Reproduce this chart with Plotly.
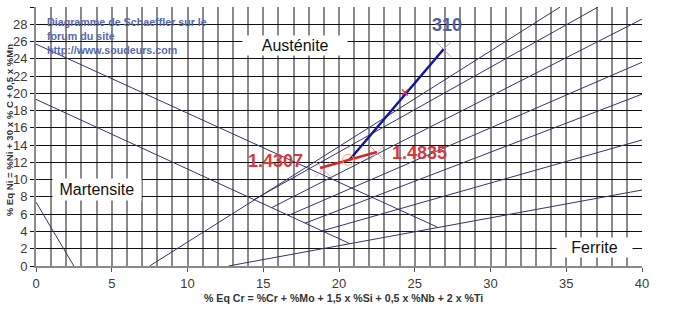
import plotly.graph_objects as go

# ---- axis ticks ----
x_ticks = [0, 5, 10, 15, 20, 25, 30, 35, 40]
y_ticks = list(range(0, 31, 2))

# ---- structural lines of the Schaeffler diagram ----
mart_line1_x = [0, 26.5]
mart_line1_y = [25.7, 4.5]
mart_line2_x = [0, 20.7]
mart_line2_y = [19.3, 2.6]
mart_line3_x = [0, 2.5]
mart_line3_y = [7.4, 0]

# ferrite iso-lines (start -> end)
ferrite_names = ["0%", "5%", "10%", "20%", "40%", "80%", "100%"]
ferrite_x0 = [7.5, 14.4, 15.55, 16.65, 17.75, 18.85, 12.7]
ferrite_y0 = [0.0, 7.7, 6.75, 5.85, 4.95, 4.05, 0.0]
ferrite_x1 = [34.6, 37.1, 40, 40, 40, 40, 40]
ferrite_y1 = [30, 30, 28.6, 23.6, 19.9, 14.6, 8.8]

# right-hand labels
pct_labels = ["10%", "20%", "40%", "80%", "100%"]
pct_label_y = [28.7, 23.75, 20.05, 15.0, 9.2]

# ---- welded materials ----
steel_310_x = [20.7, 26.9]
steel_310_y = [12.3, 25.1]
red_x = [18.75, 20.7, 22.5]
red_y = [11.35, 12.3, 13.2]
base_marker_x = [18.95, 22.5]
base_marker_y = [11.2, 13.1]
junction_x = [20.6]
junction_y = [12.3]
tick_mark_x = [24.35]
tick_mark_y = [20.1]
end_marker_x = [26.9]
end_marker_y = [25.1]

FONT = "Arial, 'Liberation Sans', sans-serif"
LINE_COL = "#34346c"

fig = go.Figure()

def seg(x, y, color=LINE_COL, width=1):
    fig.add_trace(go.Scatter(x=x, y=y, mode="lines",
                             line=dict(color=color, width=width),
                             hoverinfo="skip", showlegend=False))

seg(mart_line1_x, mart_line1_y)
seg(mart_line2_x, mart_line2_y)
seg(mart_line3_x, mart_line3_y)
for i in range(len(ferrite_names)):
    seg([ferrite_x0[i], ferrite_x1[i]], [ferrite_y0[i], ferrite_y1[i]])

# markers
fig.add_trace(go.Scatter(x=base_marker_x, y=base_marker_y, mode="markers",
                         marker=dict(symbol="x-thin", size=15,
                                     line=dict(color="#e6a3b8", width=1)),
                         hoverinfo="skip", showlegend=False))
fig.add_trace(go.Scatter(x=end_marker_x, y=end_marker_y, mode="markers",
                         marker=dict(symbol="x-thin", size=15,
                                     line=dict(color="#b8a0a8", width=1)),
                         hoverinfo="skip", showlegend=False))
seg(steel_310_x, steel_310_y, color="#1414a0", width=2.5)
seg(red_x, red_y, color="#d42828", width=2.5)
fig.add_trace(go.Scatter(x=junction_x, y=junction_y, mode="markers",
                         marker=dict(symbol="circle-open", size=11,
                                     line=dict(color="#9c86c8", width=1)),
                         hoverinfo="skip", showlegend=False))
fig.add_trace(go.Scatter(x=tick_mark_x, y=tick_mark_y, mode="markers",
                         marker=dict(symbol="x-thin", size=6,
                                     line=dict(color="#e03050", width=1.5)),
                         hoverinfo="skip", showlegend=False))

NB = "\u00a0"
ann = []
ann.append(dict(x=17.1, y=25.5, text=NB * 4 + "Austénite" + NB * 4,
                font=dict(family=FONT, size=16, color="#111"),
                bgcolor="white", borderpad=1, showarrow=False))
ann.append(dict(x=4.05, y=8.85, text=NB + "Martensite" + NB,
                font=dict(family=FONT, size=16, color="#111"),
                bgcolor="white", borderpad=2, showarrow=False))
ann.append(dict(x=36.85, y=2.15, text=NB * 3 + "Ferrite" + NB * 3,
                font=dict(family=FONT, size=16, color="#111"),
                bgcolor="white", borderpad=1, showarrow=False))
ann.append(dict(x=27.1, y=27.9, text="<b>310</b>",
                font=dict(family=FONT, size=18, color="#5060a8"),
                showarrow=False))
ann.append(dict(x=15.8, y=12.15, text="<b>1.4307</b>",
                font=dict(family=FONT, size=18, color="#d23c3c"),
                showarrow=False))
ann.append(dict(x=25.3, y=13.1, text="<b>1.4835</b>",
                font=dict(family=FONT, size=18, color="#d23c3c"),
                showarrow=False))
ann.append(dict(x=0.6, y=29.2, xanchor="left", yanchor="top", align="left",
                text="<b>Diagramme de Schaeffler sur le<br>forum du site<br>http://www.soudeurs.com</b>",
                font=dict(family=FONT, size=10.7, color="#5a68aa"),
                showarrow=False))
for lab, yy in zip(pct_labels, pct_label_y):
    ann.append(dict(x=40.2, y=yy, xanchor="left", text=lab,
                    font=dict(family=FONT, size=12, color="#333"),
                    showarrow=False))
ann.append(dict(x=20.3, y=-0.125, xref="x", yref="paper",
                text="<b>% Eq Cr = %Cr + %Mo + 1,5 x %Si + 0,5 x %Nb + 2 x %Ti</b>",
                font=dict(family=FONT, size=10.6, color="#333"),
                showarrow=False, yanchor="middle"))
ann.append(dict(x=-0.044, y=0.525, xref="paper", yref="paper", textangle=-90,
                text="<b>% Eq Ni = %Ni + 30 x % C + 0,5 x %Mn</b>",
                font=dict(family=FONT, size=9.6, color="#333"),
                showarrow=False, xanchor="center"))

fig.update_layout(
    width=673, height=312,
    margin=dict(l=36, r=31, t=7, b=46),
    paper_bgcolor="white", plot_bgcolor="white",
    showlegend=False,
    annotations=ann,
    xaxis=dict(range=[0, 40], tickvals=x_ticks, ticktext=[str(v) for v in x_ticks],
               showgrid=True, gridcolor="#8a8a8a", gridwidth=2,
               minor=dict(dtick=1, showgrid=True, gridcolor="#8a8a8a", gridwidth=2),
               ticks="outside", ticklen=4, tickcolor="#555",
               showline=True, linecolor="#8a8a8a", linewidth=2,
               zeroline=False, tickfont=dict(family=FONT, size=13, color="#3a3a3a")),
    yaxis=dict(range=[0, 30], tickvals=y_ticks, ticktext=[str(v) for v in y_ticks],
               showgrid=True, gridcolor="#111", gridwidth=1,
               ticks="outside", ticklen=4, tickcolor="#111",
               showline=True, linecolor="#8a8a8a", linewidth=2,
               zeroline=False, tickfont=dict(family=FONT, size=13, color="#3a3a3a")),
)

fig.write_html("out.html")
